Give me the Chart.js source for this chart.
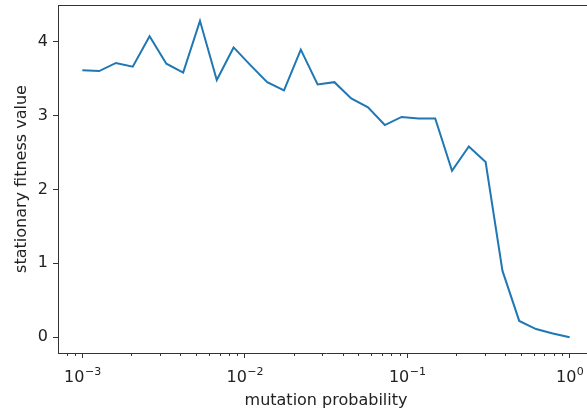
<!DOCTYPE html>
<html>
<head>
<meta charset="utf-8">
<script src="https://cdn.jsdelivr.net/npm/chart.js@4.4.1/dist/chart.umd.min.js"></script>
<style>
  html, body { margin: 0; padding: 0; background: #fff; overflow: hidden; }
  #wrap { width: 587px; height: 413px; overflow: hidden; }
  #myChart { display: block; }
</style>
</head>
<body>
<div id="wrap"><canvas id="myChart" width="600" height="413"></canvas></div>
<script>
// mutation probabilities (log spaced, 30 points from 1e-3 to 1)
const mutationProb = [
  0.001, 0.001269, 0.001610, 0.002043, 0.002593, 0.003290, 0.004175, 0.005298,
  0.006723, 0.008532, 0.010826, 0.013738, 0.017433, 0.022122, 0.028072, 0.035622,
  0.045204, 0.057362, 0.072790, 0.092367, 0.117210, 0.148735, 0.188739, 0.239503,
  0.303920, 0.385662, 0.489390, 0.621017, 0.788046, 1.0
];
// stationary fitness
const fitnessValues = [
  3.61, 3.60, 3.71, 3.66, 4.07, 3.70, 3.58, 4.28, 3.48, 3.92,
  3.68, 3.45, 3.34, 3.89, 3.42, 3.45, 3.23, 3.11, 2.87, 2.98,
  2.96, 2.96, 2.25, 2.58, 2.37, 0.90, 0.22, 0.11, 0.05, 0.00
];
const yTickValues = [0, 1, 2, 3, 4];
const xMajorTicks = [0.001, 0.01, 0.1, 1];
const xMajorExponents = ['\u22123', '\u22122', '\u22121', '0'];

const xMin = Math.pow(10, -3.15);
const xMax = Math.pow(10, 0.15);
const yMin = -0.214;
const yMax = 4.494;

const axisColor = '#333';
const textColor = '#222';
const fontFamily = '"DejaVu Sans", sans-serif';
const fontSize = 16;

const majorIndex = (v) => xMajorTicks.findIndex(m => Math.abs(v / m - 1) < 1e-9);

// minor ticks, top spine and the 10^n labels with a real superscript
const logAxisExtras = {
  id: 'logAxisExtras',
  afterDraw(chart) {
    const { ctx, chartArea } = chart;
    const xScale = chart.scales.x;
    ctx.save();
    ctx.strokeStyle = axisColor;
    ctx.lineWidth = 1;
    ctx.beginPath();
    xScale.ticks.forEach(t => {
      if (majorIndex(t.value) >= 0) return;
      const px = Math.round(xScale.getPixelForValue(t.value)) + 0.5;
      ctx.moveTo(px, chartArea.bottom);
      ctx.lineTo(px, chartArea.bottom + 3);
    });
    ctx.moveTo(chartArea.left, Math.round(chartArea.top) + 0.5);
    ctx.lineTo(chart.width, Math.round(chartArea.top) + 0.5);
    ctx.stroke();

    ctx.fillStyle = textColor;
    ctx.textBaseline = 'alphabetic';
    ctx.textAlign = 'left';
    const baseFont = fontSize + 'px ' + fontFamily;
    const supFont = Math.round(fontSize * 0.7) + 'px ' + fontFamily;
    const baseY = chartArea.bottom + 29;
    xMajorTicks.forEach((v, k) => {
      const cx = xScale.getPixelForValue(v);
      ctx.font = baseFont;
      const w1 = ctx.measureText('10').width;
      ctx.font = supFont;
      const w2 = ctx.measureText(xMajorExponents[k]).width;
      const x0 = cx - (w1 + w2) / 2;
      ctx.font = baseFont;
      ctx.fillText('10', x0, baseY);
      ctx.font = supFont;
      ctx.fillText(xMajorExponents[k], x0 + w1 + 0.5, baseY - 7);
    });
    ctx.restore();
  }
};

const ctx = document.getElementById('myChart').getContext('2d');
new Chart(ctx, {
  type: 'line',
  data: {
    datasets: [{
      data: mutationProb.map((x, i) => ({ x: x, y: fitnessValues[i] })),
      borderColor: '#1f77b4',
      borderWidth: 2,
      pointRadius: 0,
      tension: 0,
      fill: false
    }]
  },
  options: {
    responsive: false,
    animation: false,
    // the plot area runs past the visible right edge, as in the cropped original
    layout: { padding: { top: 5, right: 6, left: 0, bottom: 0 } },
    plugins: {
      legend: { display: false },
      tooltip: { enabled: false }
    },
    scales: {
      x: {
        type: 'logarithmic',
        min: xMin,
        max: xMax,
        afterFit: (s) => {
          s.height = 60;
          s.paddingLeft = 0;
          s.paddingRight = 0;
        },
        afterBuildTicks: (s) => {
          const ticks = [];
          for (let e = -4; e <= 0; e++) {
            for (let m = 1; m <= 9; m++) {
              const v = m * Math.pow(10, e);
              if (v >= xMin && v <= xMax) ticks.push({ value: v });
            }
          }
          s.ticks = ticks;
        },
        grid: {
          display: true,
          drawOnChartArea: false,
          drawTicks: true,
          tickLength: 5,
          tickColor: (c) => (c.tick && majorIndex(c.tick.value) >= 0) ? axisColor : 'rgba(0,0,0,0)'
        },
        border: { display: true, color: axisColor, width: 1 },
        ticks: {
          autoSkip: false,
          maxRotation: 0,
          padding: 6,
          color: textColor,
          font: { family: fontFamily, size: fontSize },
          callback: () => ''
        },
        title: {
          display: true,
          text: 'mutation probability',
          color: textColor,
          font: { family: fontFamily, size: fontSize },
          padding: { top: 2, bottom: 3 }
        }
      },
      y: {
        min: yMin,
        max: yMax,
        afterFit: (s) => {
          s.width = 58;
          s.paddingTop = 0;
          s.paddingBottom = 0;
        },
        afterBuildTicks: (s) => { s.ticks = yTickValues.map(v => ({ value: v })); },
        grid: {
          display: true,
          drawOnChartArea: false,
          drawTicks: true,
          tickLength: 5,
          tickColor: axisColor
        },
        border: { display: true, color: axisColor, width: 1 },
        ticks: {
          padding: 5,
          color: textColor,
          font: { family: fontFamily, size: fontSize },
          callback: (v) => String(v)
        },
        title: {
          display: true,
          text: 'stationary fitness value',
          color: textColor,
          font: { family: fontFamily, size: fontSize },
          padding: { top: 12, bottom: 4 }
        }
      }
    }
  },
  plugins: [logAxisExtras]
});
</script>
</body>
</html>
